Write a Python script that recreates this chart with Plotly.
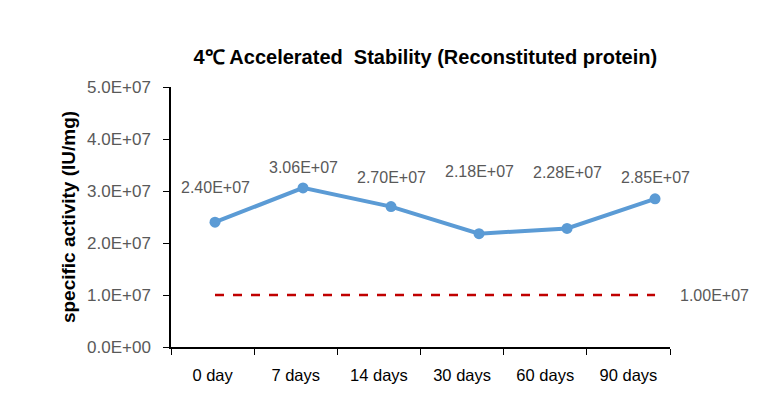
import plotly.graph_objects as go

categories = ["0 day", "7 days", "14 days", "30 days", "60 days", "90 days"]
activity = [2.40e7, 3.06e7, 2.70e7, 2.18e7, 2.28e7, 2.85e7]
threshold = [1.0e7] * len(categories)
y_ticks = [0, 1e7, 2e7, 3e7, 4e7, 5e7]
label_shift = [35, 20, 29, 62, 56, 21]

FONT = "Liberation Sans"
GRAY = "#595959"

fig = go.Figure()
# invisible trace to anchor the category label axis
fig.add_trace(go.Scatter(x=categories, y=activity, xaxis="x", yaxis="y",
                         mode="markers", marker=dict(opacity=0), hoverinfo="skip",
                         showlegend=False))
fig.add_trace(go.Scatter(x=categories, y=threshold, xaxis="x2", yaxis="y",
                         mode="lines", line=dict(color="#C00000", width=2.5, dash="dash"),
                         showlegend=False))
fig.add_trace(go.Scatter(x=categories, y=activity, xaxis="x2", yaxis="y",
                         mode="lines+markers", line=dict(color="#5B9BD5", width=4),
                         marker=dict(size=11, color="#5B9BD5"), showlegend=False))

for c, v, s in zip(categories, activity, label_shift):
    fig.add_annotation(x=c, y=v, xref="x2", yref="y", text=f"{v:.2E}", showarrow=False,
                       yshift=s, font=dict(family=FONT, size=16, color=GRAY))
fig.add_annotation(x=categories[-1], y=threshold[-1], xref="x2", yref="y",
                   text=f"{threshold[-1]:.2E}", showarrow=False, xanchor="left",
                   xshift=23, font=dict(family=FONT, size=16, color=GRAY))

fig.update_layout(
    width=780, height=407,
    margin=dict(l=163, r=118, t=79, b=68),
    paper_bgcolor="white", plot_bgcolor="white",
    title=dict(text="<b>4℃ Accelerated  Stability (Reconstituted protein)</b>",
               x=0.535, xanchor="center", y=0.88, yanchor="middle",
               font=dict(family=FONT, size=20, color="black")),
    xaxis=dict(type="category", categoryorder="array", categoryarray=categories,
               range=[-0.5, 5.5], showline=True, linecolor="black", linewidth=1.5,
               ticks="outside", tickson="boundaries", ticklen=6, tickcolor="black",
               showgrid=False, zeroline=False, ticklabelstandoff=12,
               tickfont=dict(family=FONT, size=16.5, color="black")),
    xaxis2=dict(type="category", categoryorder="array", categoryarray=categories,
                overlaying="x", range=[-0.5, 5.17], visible=False),
    yaxis=dict(range=[0, 5e7], tickvals=y_ticks, ticktext=[f"{t:.1E}" for t in y_ticks],
               showline=True, linecolor="black", linewidth=1.5, ticks="outside",
               ticklen=6, tickcolor="black", showgrid=False, zeroline=False,
               ticklabelstandoff=9,
               tickfont=dict(family=FONT, size=17, color=GRAY),
               title=dict(text="<b>specific activity (IU/mg)</b>", standoff=6,
                          font=dict(family=FONT, size=19, color="black"))),
)

fig.write_html("out.html")
